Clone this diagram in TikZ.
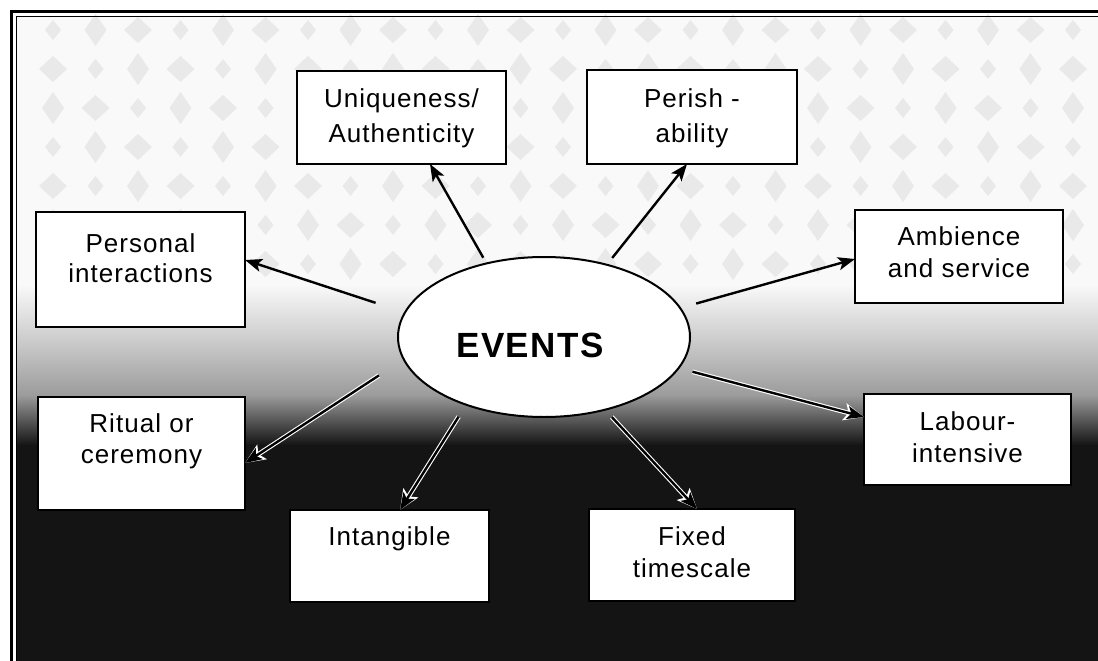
\documentclass[tikz,border=0pt]{standalone}
\usepackage{fontspec}
\setmainfont{Liberation Sans}
\newfontfamily\lblfont{Liberation Sans}[LetterSpace=4]
\usetikzlibrary{arrows.meta,calc,shapes.geometric}

\tikzset{
  cbox/.style={draw=black, line width=1.5pt, fill=white, rectangle,
    inner sep=0pt, outer sep=0pt},
  txt/.style={font=\lblfont\fontsize{26}{32}\selectfont, anchor=base,
    inner sep=0pt, text=black},
  onlight/.style={draw=black, line width=2.4pt,
    -{Stealth[length=17pt,width=13pt,inset=4pt]}},
  ondark/.style={onlight, preaction={draw=white, line width=4.6pt,
    -{Stealth[length=20pt,width=17pt,inset=4pt]}}},
  blob/.style={fill=gray!17}
}

\begin{document}
\begin{tikzpicture}[x=1pt,y=-1pt]
\useasboundingbox (0,0) rectangle (1098,661);
\fill[white] (0,0) rectangle (1098,661);

% light upper backdrop with a mottled grid of soft spots
\fill[gray!5] (16,16) rectangle (1098,661);
\foreach \i in {0,...,25}{
  \foreach \j in {0,...,7}{
    \pgfmathsetmacro{\hw}{8+3*mod(\i+2*\j,3)}
    \pgfmathsetmacro{\hh}{10+3*mod(2*\i+\j,3)}
    \fill[blob] ({53+42.5*\i},{30+39*\j-\hh}) -- ++(\hw,\hh) -- ++(-\hw,\hh)
      -- ++(-\hw,-\hh) -- cycle;
  }
}

% darkening towards the bottom
\shade[top color=gray!5, bottom color=gray!40] (16,285) rectangle (1098,340);
\shade[top color=gray!40, bottom color=gray!78] (16,340) rectangle (1098,395);
\shade[top color=gray!78, bottom color=black!92] (16,395) rectangle (1098,445);
\fill[black!92] (16,445) rectangle (1098,661);

% double frame along top and left
\draw[line width=3pt] (11.5,661) -- (11.5,11.5) -- (1098,11.5);
\draw[line width=1pt] (16.5,661) -- (16.5,16.5) -- (1098,16.5);

% centre ellipse
\node[ellipse, draw=black, line width=2pt, fill=white, minimum width=292pt,
  minimum height=160pt, inner sep=0pt, outer sep=0pt] (ev) at (544,337) {};
\node[font=\lblfont\bfseries\fontsize{35}{40}\selectfont, anchor=base,
  inner sep=0pt] (evt) at (530,357) {EVENTS};

% surrounding boxes
\node[cbox, minimum width=209pt, minimum height=93pt] (uniq) at (401.5,117.5) {};
\node[txt] (uniq-a) at (401.5,107) {Uniqueness/};
\node[txt] (uniq-b) at (401.5,142) {Authenticity};

\node[cbox, minimum width=210pt, minimum height=94pt] (per) at (692,117) {};
\node[txt] (per-a) at (692,107) {Perish -};
\node[txt] (per-b) at (692,142) {ability};

\node[cbox, minimum width=209pt, minimum height=115pt] (pers) at (140.5,269.5) {};
\node[txt] (pers-a) at (140.5,252) {Personal};
\node[txt] (pers-b) at (140.5,282) {interactions};

\node[cbox, minimum width=208pt, minimum height=93pt] (amb) at (959,256.5) {};
\node[txt] (amb-a) at (959,245) {Ambience};
\node[txt] (amb-b) at (959,277) {and service};

\node[cbox, minimum width=207pt, minimum height=113pt] (rit) at (141.5,453.5) {};
\node[txt] (rit-a) at (141.5,432) {Ritual or};
\node[txt] (rit-b) at (141.5,463) {ceremony};

\node[cbox, minimum width=207pt, minimum height=91pt] (lab) at (967.5,439.5) {};
\node[txt] (lab-a) at (967.5,430) {Labour-};
\node[txt] (lab-b) at (967.5,462) {intensive};

\node[cbox, minimum width=199pt, minimum height=92pt] (int) at (389.5,556) {};
\node[txt] (int-a) at (389.5,545) {Intangible};

\node[cbox, minimum width=206pt, minimum height=92pt] (fix) at (692,555) {};
\node[txt] (fix-a) at (692,545) {Fixed};
\node[txt] (fix-b) at (692,577) {timescale};

% connectors from the ellipse to each box
\draw[onlight, shorten <=31pt] (ev.170.7) -- ($(pers.east)+(0,-9.5)$);
\draw[onlight, shorten <=6.6pt] (ev.128.7) -- ($(uniq.south)+(28.5,0)$);
\draw[onlight, shorten <=8.7pt] (ev.49.2) -- ($(per.south)+(-5,0)$);
\draw[onlight, shorten <=16.7pt] (ev.12.8) -- ($(amb.west)+(0,2.5)$);
\draw[ondark, shorten <=14.4pt] (ev.347.3) -- ($(lab.west)+(0,-22.5)$);
\draw[ondark, shorten <=10pt] (ev.310) -- ($(fix.north)+(5,0)$);
\draw[ondark, shorten <=14.1pt] (ev.221.8) -- ($(int.north)+(10.5,0)$);
\draw[ondark, shorten <=29.5pt] (ev.189.8) -- ($(rit.east)+(0,9.5)$);
\end{tikzpicture}
\end{document}
